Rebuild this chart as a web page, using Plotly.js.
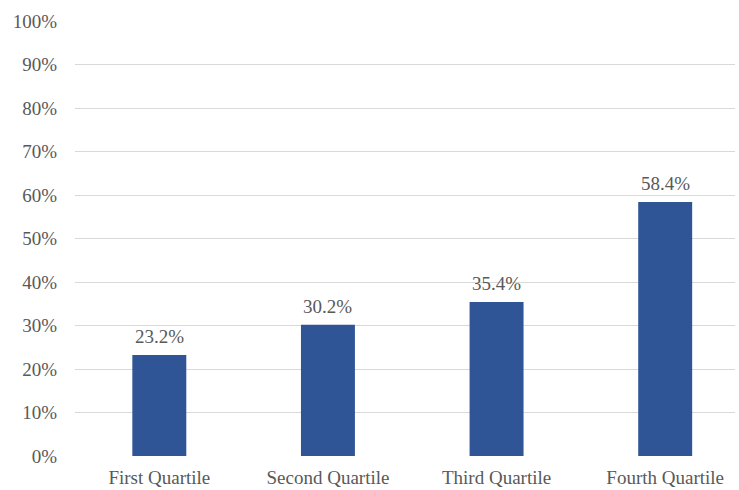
<!DOCTYPE html>
<html>
<head>
<meta charset="utf-8">
<script src="https://cdn.plot.ly/plotly-3.0.1.min.js"></script>
<style>html,body{margin:0;padding:0;background:#fff;}#chart{width:739px;height:490px;}</style>
</head>
<body>
<div id="chart"></div>
<script>
const categories = ["First Quartile", "Second Quartile", "Third Quartile", "Fourth Quartile"];
const values = [23.2, 30.2, 35.4, 58.4];
const labels = ["23.2%", "30.2%", "35.4%", "58.4%"];
const yTickVals = [0, 10, 20, 30, 40, 50, 60, 70, 80, 90, 100];
const yTickText = ["0%", "10%", "20%", "30%", "40%", "50%", "60%", "70%", "80%", "90%", "100%"];

const FONT = "Times New Roman, Liberation Serif, Tinos, serif";
const TXT = "#595959";

const trace = {
  type: "bar",
  x: categories,
  y: values,
  width: 0.32,
  marker: {color: "#2F5597"},
  hoverinfo: "none"
};

const annotations = categories.map((c, i) => ({
  x: c, y: values[i], xref: "x", yref: "y",
  text: labels[i], showarrow: false,
  yanchor: "bottom", yshift: 6,
  font: {family: FONT, size: 19, color: TXT}
}));

const layout = {
  width: 739, height: 490,
  margin: {l: 75, r: 4, t: 21, b: 34},
  paper_bgcolor: "#ffffff", plot_bgcolor: "#ffffff",
  showlegend: false,
  font: {family: FONT, color: TXT},
  xaxis: {
    type: "category",
    range: [-0.5, 3.414],
    showgrid: false, zeroline: false, showline: false,
    ticks: "outside", ticklen: 4, tickcolor: "rgba(0,0,0,0)",
    tickfont: {family: FONT, size: 19, color: TXT},
    fixedrange: true
  },
  yaxis: {
    range: [0, 100],
    tickvals: yTickVals, ticktext: yTickText,
    showgrid: true, gridcolor: "#D9D9D9", gridwidth: 1,
    zeroline: false, showline: false,
    ticks: "outside", ticklen: 13, tickcolor: "rgba(0,0,0,0)",
    tickfont: {family: FONT, size: 19, color: TXT},
    fixedrange: true
  },
  annotations: annotations
};

Plotly.newPlot("chart", [trace], layout, {displayModeBar: false, staticPlot: true});
</script>
</body>
</html>
